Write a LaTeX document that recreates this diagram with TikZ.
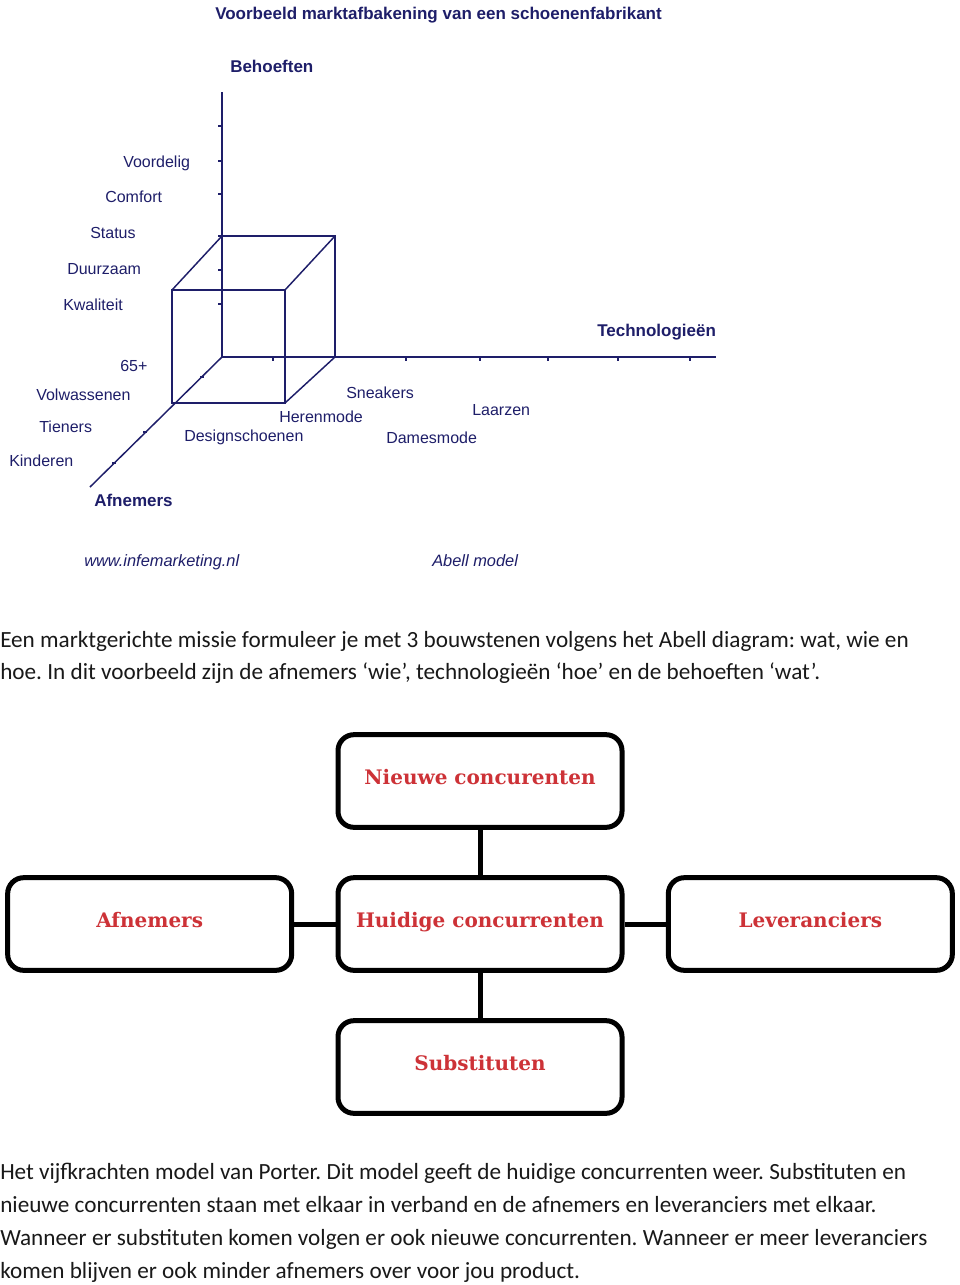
\documentclass[tikz,border=0pt]{standalone}
\usepackage{fontspec}
\setmainfont{Carlito}
\newfontfamily\arialfont{Liberation Sans}
\newfontfamily\slabfont{DejaVu Serif}
\usetikzlibrary{positioning}
\definecolor{abellnavy}{RGB}{30,30,105}
\definecolor{porterred}{RGB}{205,50,55}
\definecolor{bodygray}{RGB}{25,25,25}
\frenchspacing

\tikzset{
  axis/.style={draw=abellnavy, line width=1.1pt},
  tick/.style={draw=abellnavy, line width=0.8pt},
  lbl/.style={font=\arialfont\fontsize{12}{14}\selectfont, text=abellnavy, anchor=base west, inner sep=0pt},
  ttl/.style={lbl, font=\arialfont\bfseries\fontsize{12.75}{15}\selectfont},
  src/.style={lbl, font=\arialfont\itshape\fontsize{12.3}{14}\selectfont},
  force/.style={draw=black, line width=3.75pt, rounded corners=12pt, fill=white,
    minimum width=213pt, minimum height=69.5pt, text depth=6pt,
    font=\slabfont\bfseries\fontsize{15}{18}\selectfont, text=porterred},
  link/.style={draw=black, line width=3.75pt},
  body/.style={font=\fontsize{17.4}{20}\selectfont, text=bodygray, anchor=base west, inner sep=0pt}
}

\begin{document}
\begin{tikzpicture}[x=0.75pt, y=-0.75pt, node distance=34pt and 31pt]
  \fill[white] (0,0) rectangle (960,1285);
  \useasboundingbox (0,0) rectangle (960,1285);

  % Abell model
  \node[ttl] (title) at (215,19) {Voorbeeld marktafbakening van een schoenenfabrikant};
  \node[ttl] (behoeften) at (230,72) {Behoeften};
  \node[ttl] (techno) at (597,336) {Technologieën};
  \node[ttl] (afnemersax) at (94,506) {Afnemers};

  \coordinate (O) at (222,357);
  \coordinate (btop) at (222,92);
  \coordinate (tend) at (716,357);
  \coordinate (aend) at (90,487);
  \draw[axis] (btop) -- (O) -- (tend);
  \draw[axis] (O) -- (aend);
  \foreach \y in {126,161,194,236,270,304}
    \draw[tick] (218,\y) -- (222,\y);
  \foreach \x in {273,406,480,548,618,690}
    \draw[tick] (\x,357) -- (\x,361);
  \foreach \x/\y in {200/377,143/432,112/463}
    \draw[tick] (\x,\y) -- ++(4,0);

  % cube
  \draw[axis] (222,236) -- (335,236) -- (335,357);
  \draw[axis] (172,290) rectangle (285,403);
  \draw[axis] (222,236) -- (172,290);
  \draw[axis] (335,236) -- (285,290);
  \draw[axis] (335,357) -- (285,403);

  \node[lbl] (voordelig) at (123,167) {Voordelig};
  \node[lbl] (comfort) at (105,202) {Comfort};
  \node[lbl] (status) at (90,238) {Status};
  \node[lbl] (duurzaam) at (67,274) {Duurzaam};
  \node[lbl] (kwaliteit) at (63,310) {Kwaliteit};
  \node[lbl] (plus65) at (120,371) {65+};
  \node[lbl] (volwassenen) at (36,400) {Volwassenen};
  \node[lbl] (tieners) at (39,432) {Tieners};
  \node[lbl] (kinderen) at (9,466) {Kinderen};
  \node[lbl] (design) at (184,441) {Designschoenen};
  \node[lbl] (heren) at (279,422) {Herenmode};
  \node[lbl] (sneakers) at (346,398) {Sneakers};
  \node[lbl] (dames) at (386,443) {Damesmode};
  \node[lbl] (laarzen) at (472,415) {Laarzen};
  \node[src] (site) at (84,566) {www.infemarketing.nl};
  \node[src] (abell) at (432,566) {Abell model};

  \node[body] (introa) at (0,647) {Een marktgerichte missie formuleer je met 3 bouwstenen volgens het Abell diagram: wat, wie en};
  \node[body] (introb) at (0,679) {hoe. In dit voorbeeld zijn de afnemers ‘wie’, technologieën ‘hoe’ en de behoeften ‘wat’.};

  % Porter model
  \node[force] (huidige) at (480,924) {Huidige concurrenten};
  \node[force, above=of huidige] (nieuwe) {Nieuwe concurenten};
  \node[force, below=of huidige] (substituten) {Substituten};
  \node[force, left=of huidige] (afnemers) {Afnemers};
  \node[force, right=of huidige] (leveranciers) {Leveranciers};

  \draw[link] (nieuwe) -- (huidige);
  \draw[link] (huidige) -- (substituten);
  \draw[link] (afnemers) -- (huidige);
  \draw[link] (huidige) -- (leveranciers);

  \node[body] (outroa) at (0,1179) {Het vijfkrachten model van Porter. Dit model geeft de huidige concurrenten weer. Substituten en};
  \node[body] (outrob) at (0,1212) {nieuwe concurrenten staan met elkaar in verband en de afnemers en leveranciers met elkaar.};
  \node[body] (outroc) at (0,1245) {Wanneer er substituten komen volgen er ook nieuwe concurrenten. Wanneer er meer leveranciers};
  \node[body] (outrod) at (0,1278) {komen blijven er ook minder afnemers over voor jou product.};
\end{tikzpicture}
\end{document}
